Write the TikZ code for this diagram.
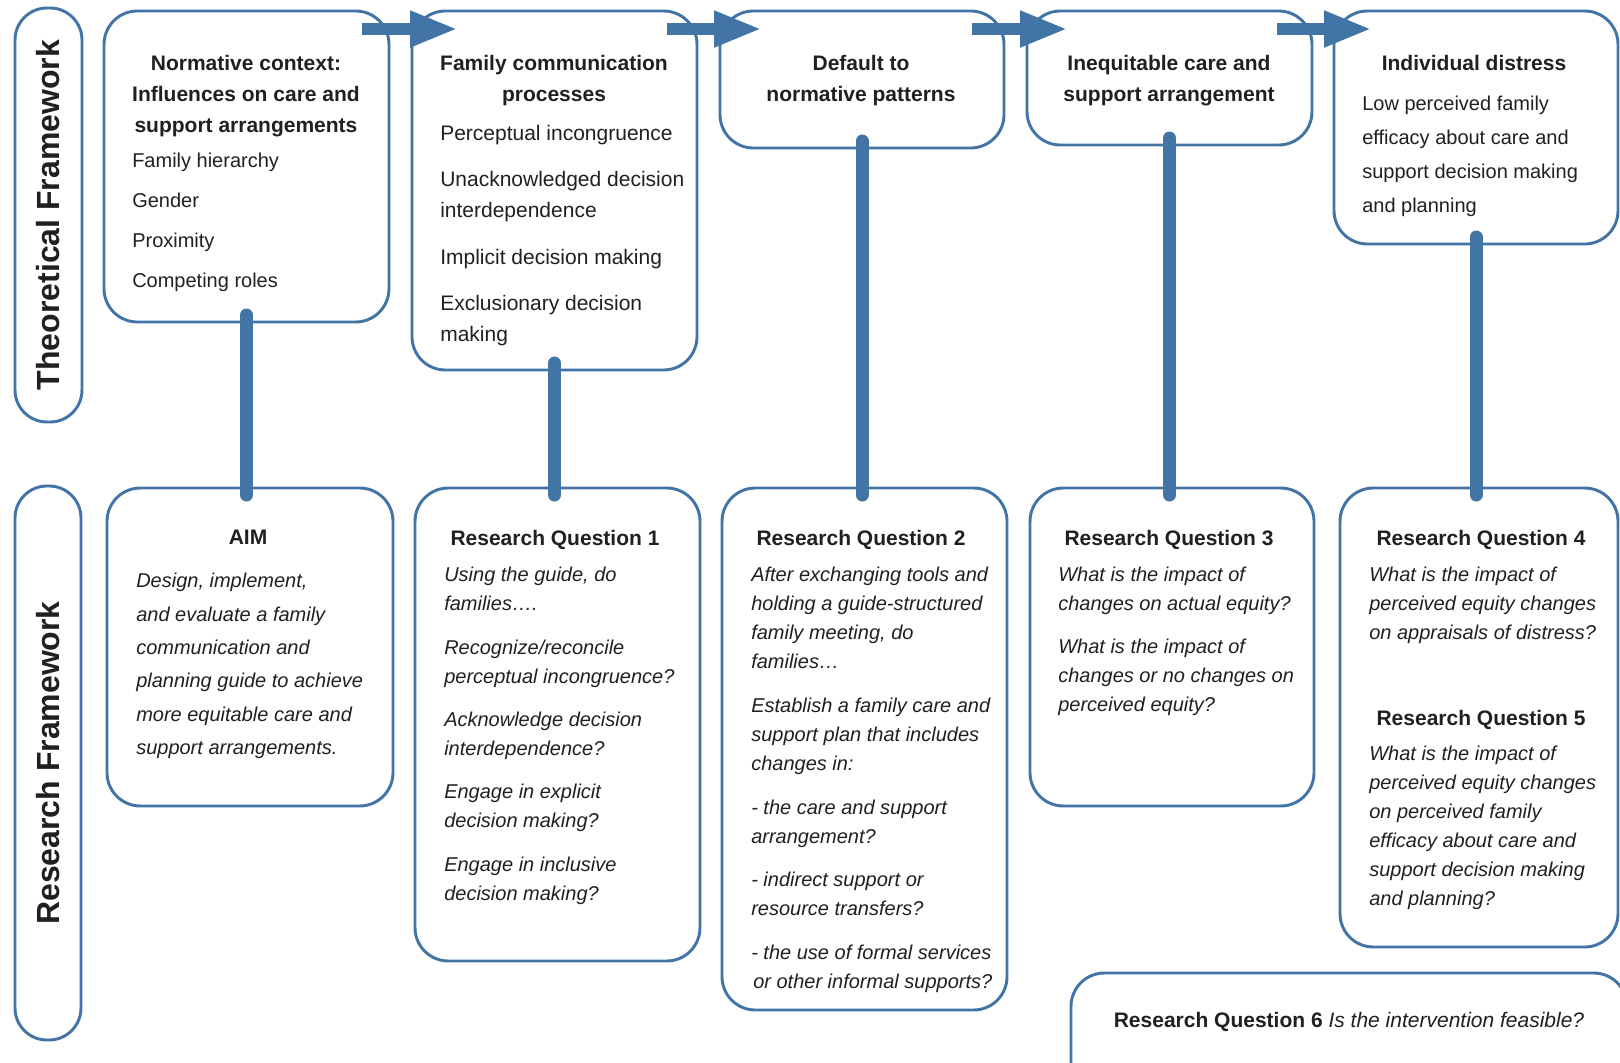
\documentclass[tikz,border=0pt]{standalone}
\usepackage{fontspec}
\setmainfont{Liberation Sans}
\usetikzlibrary{arrows.meta,calc,fit}
\definecolor{frameblue}{RGB}{66,117,166}
\definecolor{inkgray}{RGB}{35,31,32}

\begin{document}
\begin{tikzpicture}[x=0.75pt,y=-0.75pt,
  box/.style={draw=frameblue,line width=2.2pt,rounded corners=25pt,fill=white,inner sep=0pt,outer sep=0pt},
  side box/.style={box,rounded corners=24pt},
  side text/.style={rotate=90,inner sep=0pt,text=inkgray,font=\bfseries\fontsize{24}{28}\selectfont},
  head/.style={anchor=north,align=center,inner sep=0pt,text=inkgray,font=\bfseries\fontsize{15.75}{23.25}\selectfont},
  body/.style={anchor=north west,align=left,inner sep=0pt,text=inkgray,font=\fontsize{15.75}{23.25}\selectfont},
  question/.style={body,font=\itshape\fontsize{15}{21.75}\selectfont},
  link/.style={draw=frameblue,line width=9.75pt,line cap=round,shorten <=-5.25pt,shorten >=-5.25pt},
  flow/.style={draw=frameblue,line width=9.5pt,-{Triangle[length=36pt,width=25pt]}}]

  \useasboundingbox (0,0) rectangle (1620,1063);

  % side labels
  \node[side box,fit={(15,8) (82,422)}] (theo) {};
  \node[side text] (theo text) at (theo.center) {Theoretical Framework};
  \node[side box,fit={(15,486) (81,1040)}] (res) {};
  \node[side text] (res text) at (res.center) {Research Framework};

  % theoretical framework
  \node[box,fit={(104,11) (389,322)}] (t1) {};
  \node[box,fit={(412,11) (697,370)}] (t2) {};
  \node[box,fit={(720,11) (1004,148)}] (t3) {};
  \node[box,fit={(1027,11) (1312,145)}] (t4) {};
  \node[box,fit={(1334,11) (1618,244)}] (t5) {};

  \node[head] (t1 head) at (246,55) {Normative context:\\Influences on care and\\support arrangements};
  \node[body,font=\fontsize{15}{30}\selectfont] (t1 body) at (132,153)
    {Family hierarchy\\Gender\\Proximity\\Competing roles};
  \node[head] (t2 head) at (554,55) {Family communication\\processes};
  \node[body] (t2 body) at (440,125)
    {Perceptual incongruence\\[11.5pt]Unacknowledged decision\\interdependence\\[11.5pt]Implicit decision making\\[11.5pt]Exclusionary decision\\making};
  \node[head] (t3 head) at (861,55) {Default to\\normative patterns};
  \node[head] (t4 head) at (1169,55) {Inequitable care and\\support arrangement};
  \node[head] (t5 head) at (1474,55) {Individual distress};
  \node[body,font=\fontsize{15}{25.5}\selectfont] (t5 body) at (1362,96)
    {Low perceived family\\efficacy about care and\\support decision making\\and planning};

  % research framework
  \node[box,fit={(107,488) (393,806)}] (r0) {};
  \node[box,fit={(415,488) (700,961)}] (r1) {};
  \node[box,fit={(722,488) (1007,1010)}] (r2) {};
  \node[box,fit={(1030,488) (1314,806)}] (r3) {};
  \node[box,fit={(1340,488) (1618,947)}] (r4) {};
  \node[box,fit={(1071,973) (1627,1100)}] (r6) {};

  \node[head] (r0 head) at (248,530) {AIM};
  \node[question,font=\itshape\fontsize{15}{25}\selectfont] (r0 body) at (136,573)
    {Design, implement,\\and evaluate a family\\communication and\\planning guide to achieve\\more equitable care and\\support arrangements.};
  \node[head] (r1 head) at (555,530) {Research Question 1};
  \node[question] (r1 body) at (444,567)
    {Using the guide, do\\families…. \\[10.8pt]Recognize/reconcile\\perceptual incongruence?\\[10.8pt]Acknowledge decision\\interdependence?\\[10.8pt]Engage in explicit\\decision making?\\[10.8pt]Engage in inclusive\\decision making?};
  \node[head] (r2 head) at (861,530) {Research Question 2};
  \node[question] (r2 body) at (751,567)
    {After exchanging tools and\\holding a guide-structured\\family meeting, do\\families…\\[11pt]Establish a family care and\\support plan that includes\\changes in:\\[11pt]- the care and support\\arrangement?\\[11pt]- indirect support or\\resource transfers?\\[11pt]- the use of formal services\\\hspace{1.5pt}or other informal supports?};
  \node[head] (r3 head) at (1169,530) {Research Question 3};
  \node[question] (r3 body) at (1058,567)
    {What is the impact of\\changes on actual equity?\\[10.5pt]What is the impact of\\changes or no changes on\\perceived equity?};
  \node[head] (r4 head) at (1481,530) {Research Question 4};
  \node[question] (r4 body) at (1369,567)
    {What is the impact of\\perceived equity changes\\on appraisals of distress?};
  \node[head] (r5 head) at (1481,710) {Research Question 5};
  \node[question] (r5 body) at (1369,746)
    {What is the impact of\\perceived equity changes\\on perceived family\\efficacy about care and\\support decision making\\and planning?};
  \node[anchor=mid,inner sep=0pt,text=inkgray,font=\fontsize{15.75}{20}\selectfont] (r6 text) at (1349,1024)
    {\textbf{Research Question 6} \textit{Is the intervention feasible?}};

  % links between the two frameworks
  \draw[link] (t1.south) -- (t1.south |- r0.north);
  \draw[link] (t2.south) -- (t2.south |- r1.north);
  \draw[link] (t3.south) -- (t3.south |- r2.north);
  \draw[link] (t4.south) -- (t4.south |- r3.north);
  \draw[link] (t5.south) -- (t5.south |- r4.north);

  % flow along the top
  \draw[flow] ($(t1.north east)+(-27,18)$) -- ($(t2.north west)+(46,18)$);
  \draw[flow] ($(t2.north east)+(-30,18)$) -- ($(t3.north west)+(42,18)$);
  \draw[flow] ($(t3.north east)+(-32,18)$) -- ($(t4.north west)+(41,18)$);
  \draw[flow] ($(t4.north east)+(-35,18)$) -- ($(t5.north west)+(38,18)$);
\end{tikzpicture}
\end{document}
